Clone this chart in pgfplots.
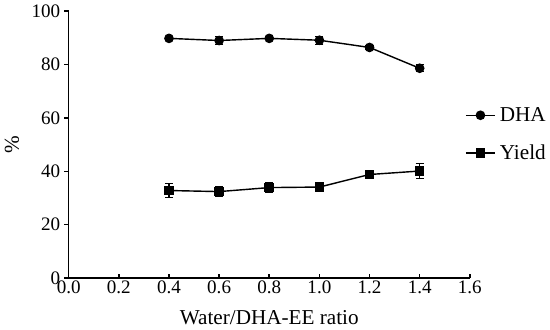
\documentclass[border=0pt]{standalone}
\usepackage{fontspec}
\setmainfont{Liberation Serif}
\usepackage{pgfplots}
\pgfplotsset{compat=1.18}
\begin{document}
\begin{tikzpicture}
\begin{axis}[
  width=284pt, height=189pt, scale only axis,
  xmin=0, xmax=1.6, ymin=0, ymax=100,
  axis lines=left, axis line style={-, line width=1.1pt},
  xtick={0,0.2,...,1.6}, ytick={0,20,...,100},
  xticklabel style={/pgf/number format/fixed, /pgf/number format/fixed zerofill, /pgf/number format/precision=1, yshift=1.5pt},
  yticklabel style={xshift=0.5pt},
  /pgf/number format/assume math mode=true,
  xtick align=inside, ytick align=outside,
  major tick length=3pt,
  tick style={line width=1.1pt, black},
  tick label style={font=\rmfamily\fontsize{13.5}{15}\selectfont},
  label style={font=\rmfamily\fontsize{15}{17}\selectfont},
  xlabel={Water/DHA-EE ratio},
  xlabel style={yshift=-5pt},
  ylabel={\%},
  ylabel style={yshift=2pt},
  legend style={draw=none, at={(0.988,0.657)}, anchor=north west, inner sep=0pt,
    font=\rmfamily\fontsize{15}{17}\selectfont, row sep=9pt, fill=none,
    nodes={inner sep=3pt}},
  legend cell align=left,
  legend image code/.code={\draw[#1, mark repeat=2, mark phase=2] plot coordinates {(0cm,0cm) (0.36cm,0cm) (0.72cm,0cm)};},
]
\addplot[black, line width=1pt, mark=*, mark size=2.9pt, mark options={fill=black, solid},
  error bars/.cd, y dir=both, y explicit, error bar style={line width=0.8pt, black}, error mark options={rotate=90, mark size=2.9pt, line width=0.8pt, black}]
  coordinates {
  (0.4,89.8) +- (0,0.5)
  (0.6,89.0) +- (0,1.5)
  (0.8,89.8) +- (0,0.5)
  (1.0,89.1) +- (0,1.5)
  (1.2,86.4) +- (0,0.6)
  (1.4,78.6) +- (0,1.3)
  };
\addlegendentry{DHA}
\addplot[black, line width=1pt, mark=square*, mark size=2.9pt, mark options={fill=black, solid},
  error bars/.cd, y dir=both, y explicit, error bar style={line width=0.8pt, black}, error mark options={rotate=90, mark size=2.9pt, line width=0.8pt, black}]
  coordinates {
  (0.4,32.8) +- (0,2.6)
  (0.6,32.4) +- (0,1.8)
  (0.8,33.9) +- (0,1.8)
  (1.0,34.1) +- (0,0.8)
  (1.2,38.8) +- (0,0.8)
  (1.4,40.1) +- (0,2.7)
  };
\addlegendentry{Yield}
\end{axis}
\end{tikzpicture}
\end{document}
